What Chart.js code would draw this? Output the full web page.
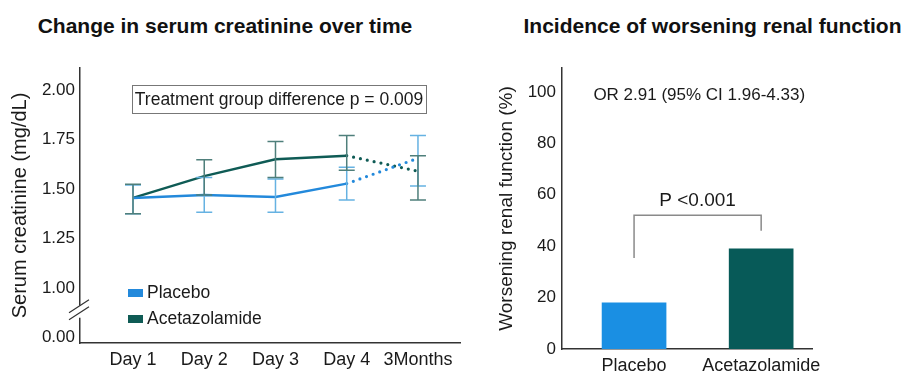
<!DOCTYPE html>
<html>
<head>
<meta charset="utf-8">
<script src="https://cdn.jsdelivr.net/npm/chart.js"></script>
<style>
  body { margin: 0; background: #fff; }
  #wrap { position: relative; width: 903px; height: 373px; overflow: hidden; font-family: "Liberation Sans", Arial, sans-serif; }
  .ttl { position: absolute; top: 14px; font-size: 21px; line-height: 24px; font-weight: bold; color: #111; text-align: center; white-space: nowrap; }
  canvas { position: absolute; top: 0; }
</style>
</head>
<body>
<div id="wrap">
  <div class="ttl" style="left:0; width:450px;">Change in serum creatinine over time</div>
  <div class="ttl" style="left:520px; width:385px;">Incidence of worsening renal function</div>
  <canvas id="lineChart" width="470" height="373" style="left:0;"></canvas>
  <canvas id="barChart" width="433" height="373" style="left:470px;"></canvas>
</div>
<script>
// serum creatinine (mg/dL), left panel
var timeLabels = ['Day 1', 'Day 2', 'Day 3', 'Day 4', '3Months'];
var timePoints = [1, 2, 3, 4, 5];
var placeboMean = [1.455, 1.47, 1.46, 1.527, 1.655];
var placeboLow  = [1.375, 1.383, 1.383, 1.444, 1.515];
var placeboHigh = [1.52, 1.558, 1.55, 1.61, 1.77];
var acetaMean = [1.455, 1.565, 1.65, 1.668, 1.59];
var acetaLow  = [1.375, 1.47, 1.558, 1.595, 1.444];
var acetaHigh = [1.524, 1.648, 1.74, 1.77, 1.668];
// 0.75 on the scale is shown as "0.00" (axis break)
var yTickValues = [0.75, 1.00, 1.25, 1.50, 1.75, 2.00];
var yTickLabels = ['0.00', '1.00', '1.25', '1.50', '1.75', '2.00'];

// worsening renal function (%), right panel
var groupLabels = ['Placebo', 'Acetazolamide'];
var groupPos = [0, 1];
var wrfPercent = [18, 39];
var wrfTicks = [0, 20, 40, 60, 80, 100];

var BLUE = '#2389db';
var TEAL = '#0f5b55';
var TXT = '#1a1a1a';
var FONT = '"Liberation Sans", Arial, sans-serif';

Chart.defaults.font.family = FONT;
Chart.defaults.color = TXT;

function pts(vals) {
    return timePoints.map(function (x, i) { return { x: x, y: vals[i] }; });
}
function lastSeg(ctx) { return ctx.p1DataIndex === timePoints.length - 1; }

var lineExtras = {
    id: 'lineExtras',
    afterDatasetsDraw: function (chart) {
        var c = chart.ctx, xs = chart.scales.x, ys = chart.scales.y;
        // error bars
        function bars(low, high, color) {
            c.save();
            c.strokeStyle = color;
            c.lineWidth = 1.5;
            for (var i = 0; i < timePoints.length; i++) {
                var px = xs.getPixelForValue(timePoints[i]);
                var y1 = ys.getPixelForValue(low[i]), y2 = ys.getPixelForValue(high[i]);
                c.beginPath();
                c.moveTo(px, y1); c.lineTo(px, y2);
                c.moveTo(px - 8, y1); c.lineTo(px + 8, y1);
                c.moveTo(px - 8, y2); c.lineTo(px + 8, y2);
                c.stroke();
            }
            c.restore();
        }
        bars(placeboLow, placeboHigh, '#66b2e2');
        bars(acetaLow, acetaHigh, '#4f7f7b');
    },
    afterDraw: function (chart) {
        var c = chart.ctx, ys = chart.scales.y, area = chart.chartArea;
        c.save();
        // axis break
        var yb = ys.getPixelForValue(0.88);
        c.fillStyle = '#fff';
        c.fillRect(area.left - 3, yb - 6, 6, 12);
        c.strokeStyle = '#333';
        c.lineWidth = 1.2;
        c.beginPath();
        c.moveTo(area.left - 11, yb + 1); c.lineTo(area.left + 9, yb - 12);
        c.moveTo(area.left - 11, yb + 8); c.lineTo(area.left + 9, yb - 5);
        c.stroke();

        // annotation box
        c.strokeStyle = '#777';
        c.lineWidth = 1;
        c.strokeRect(132.5, 85.5, 294, 28);
        c.fillStyle = TXT;
        c.font = '17.5px ' + FONT;
        c.textAlign = 'center';
        c.textBaseline = 'middle';
        c.fillText('Treatment group difference p = 0.009', 279, 100);

        // legend
        c.font = '17.5px ' + FONT;
        c.textAlign = 'left';
        chart.data.datasets.forEach(function (ds, i) {
            var y = 293 + i * 26;
            c.fillStyle = ds.borderColor;
            c.fillRect(128, y - 4, 15, 8);
            c.fillStyle = TXT;
            c.fillText(ds.label, 147, y);
        });
        c.restore();
    }
};

new Chart(document.getElementById('lineChart'), {
    type: 'line',
    data: {
        datasets: [
            {
                label: 'Placebo',
                data: pts(placeboMean),
                borderColor: BLUE,
                backgroundColor: BLUE,
                borderWidth: 2.5,
                pointRadius: 0,
                tension: 0,
                segment: {
                    borderDash: function (ctx) { return lastSeg(ctx) ? [0, 7] : undefined; },
                    borderCapStyle: function (ctx) { return lastSeg(ctx) ? 'round' : 'butt'; },
                    borderWidth: function (ctx) { return lastSeg(ctx) ? 3.2 : 2.5; }
                }
            },
            {
                label: 'Acetazolamide',
                data: pts(acetaMean),
                borderColor: TEAL,
                backgroundColor: TEAL,
                borderWidth: 2.5,
                pointRadius: 0,
                tension: 0,
                segment: {
                    borderDash: function (ctx) { return lastSeg(ctx) ? [0, 7] : undefined; },
                    borderCapStyle: function (ctx) { return lastSeg(ctx) ? 'round' : 'butt'; },
                    borderWidth: function (ctx) { return lastSeg(ctx) ? 3.2 : 2.5; }
                }
            }
        ]
    },
    options: {
        responsive: false,
        animation: false,
        devicePixelRatio: 1,
        layout: { padding: { top: 68, right: 10, bottom: 0, left: 0 } },
        plugins: { legend: { display: false }, tooltip: { enabled: false } },
        scales: {
            x: {
                type: 'linear',
                min: 0.256,
                max: 5.59,
                afterBuildTicks: function (s) { s.ticks = timePoints.map(function (v) { return { value: v }; }); },
                afterFit: function (s) { s.height = 30; },
                ticks: {
                    callback: function (v, i) { return timeLabels[i]; },
                    font: { size: 18 },
                    padding: 6
                },
                grid: { display: false, drawTicks: false },
                border: { color: '#333', width: 1.5 }
            },
            y: {
                min: 0.722,
                max: 2.111,
                afterBuildTicks: function (s) { s.ticks = yTickValues.map(function (v) { return { value: v }; }); },
                afterFit: function (s) { s.width = 80; },
                ticks: {
                    callback: function (v, i) { return yTickLabels[i]; },
                    font: { size: 17 },
                    padding: 5
                },
                grid: { display: false, drawTicks: false },
                border: { color: '#333', width: 1.5 },
                title: {
                    display: true,
                    text: 'Serum creatinine (mg/dL)',
                    font: { size: 20 },
                    padding: { top: 8, bottom: 0 }
                }
            }
        }
    },
    plugins: [lineExtras]
});

var barExtras = {
    id: 'barExtras',
    afterDraw: function (chart) {
        var c = chart.ctx, xs = chart.scales.x, ys = chart.scales.y;
        c.save();
        c.fillStyle = TXT;
        c.font = '17px ' + FONT;
        c.textAlign = 'left';
        c.textBaseline = 'middle';
        c.fillText('OR 2.91 (95% CI 1.96-4.33)', xs.getPixelForValue(-0.32), ys.getPixelForValue(98.8));

        // significance bracket
        var xl = xs.getPixelForValue(groupPos[0]), xr = xs.getPixelForValue(groupPos[1]);
        var yt = ys.getPixelForValue(52);
        c.strokeStyle = '#8a8a8a';
        c.lineWidth = 1.5;
        c.beginPath();
        c.moveTo(xl, ys.getPixelForValue(35.4));
        c.lineTo(xl, yt);
        c.lineTo(xr, yt);
        c.lineTo(xr, ys.getPixelForValue(46));
        c.stroke();
        c.font = '19px ' + FONT;
        c.textAlign = 'center';
        c.fillText('P <0.001', (xl + xr) / 2, ys.getPixelForValue(57.5));
        c.restore();
    }
};

new Chart(document.getElementById('barChart'), {
    type: 'bar',
    data: {
        datasets: [{
            label: 'Worsening renal function',
            data: groupPos.map(function (x, i) { return { x: x, y: wrfPercent[i] }; }),
            backgroundColor: ['#1a8fe3', '#075a58'],
            borderWidth: 0,
            barThickness: 64
        }]
    },
    options: {
        responsive: false,
        animation: false,
        devicePixelRatio: 1,
        layout: { padding: { top: 68, right: 91, bottom: 0, left: 0 } },
        plugins: { legend: { display: false }, tooltip: { enabled: false } },
        scales: {
            x: {
                type: 'linear',
                min: -0.567,
                max: 1.40,
                offset: false,
                afterBuildTicks: function (s) { s.ticks = groupPos.map(function (v) { return { value: v }; }); },
                afterFit: function (s) { s.height = 24; },
                ticks: {
                    callback: function (v, i) { return groupLabels[i]; },
                    font: { size: 18 },
                    padding: 6
                },
                grid: { display: false, drawTicks: false },
                border: { color: '#333', width: 1.5 }
            },
            y: {
                min: 0,
                max: 109.3,
                afterBuildTicks: function (s) { s.ticks = wrfTicks.map(function (v) { return { value: v }; }); },
                afterFit: function (s) { s.width = 92; },
                ticks: { font: { size: 17 }, padding: 6 },
                grid: { display: false, drawTicks: false },
                border: { color: '#333', width: 1.5 },
                title: {
                    display: true,
                    text: 'Worsening renal function (%)',
                    font: { size: 19 },
                    padding: { top: 25.5, bottom: 0 }
                }
            }
        }
    },
    plugins: [barExtras]
});
</script>
</body>
</html>
